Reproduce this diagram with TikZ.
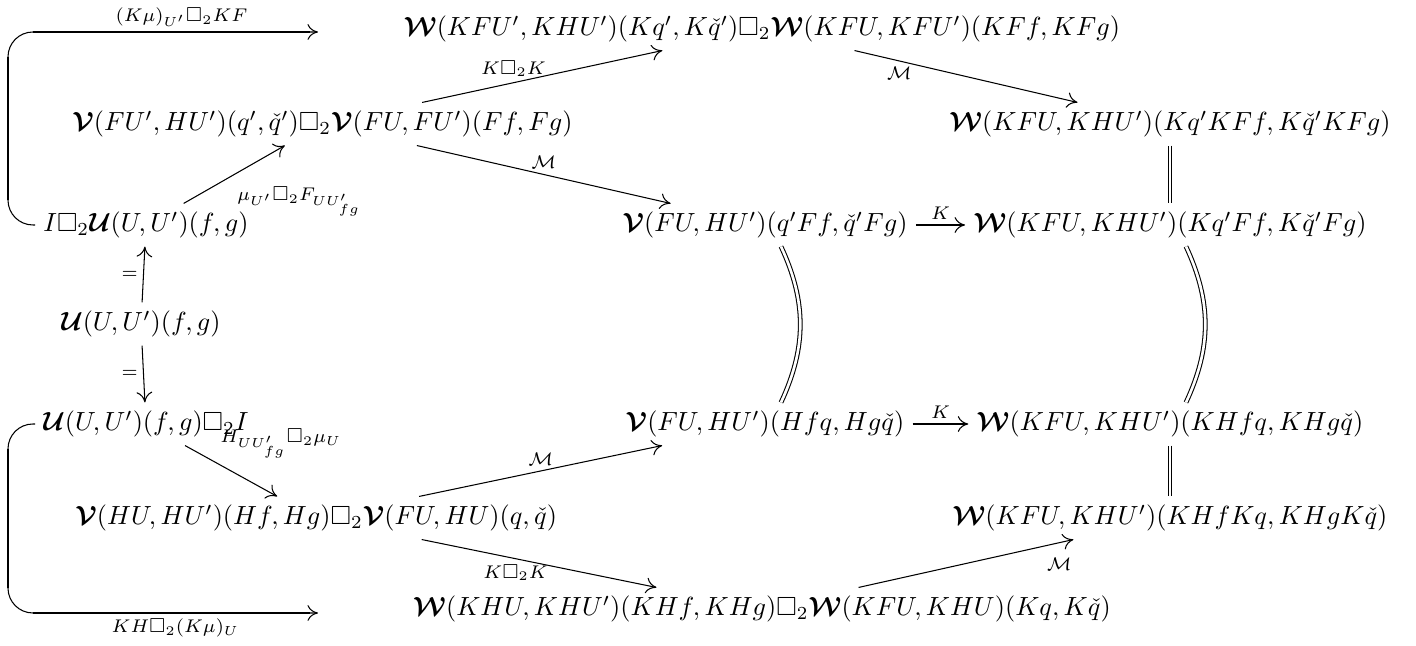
\documentclass[tikz,border=0pt]{standalone}
\usepackage{amsmath,amssymb}
\usetikzlibrary{arrows.meta}
\newcommand{\calW}{\boldsymbol{\mathcal{W}}}
\newcommand{\calV}{\boldsymbol{\mathcal{V}}}
\newcommand{\calU}{\boldsymbol{\mathcal{U}}}
\newcommand{\calM}{\mathcal{M}}
\begin{document}
\begin{tikzpicture}[x=0.381pt,y=-0.381pt,
  obj/.style={inner sep=3pt},
  arr/.style={-{To[length=4pt,width=6pt]}, line width=0.4pt},
  lbl/.style={inner sep=2pt},
  eq/.style={double, double distance=1pt, line width=0.4pt},
  thick line/.style={line width=0.9pt}]
\useasboundingbox (0,0) rectangle (1416,646);
\node[obj] (T) at (762,29) {$\calW(KFU',KHU')(Kq',K\check{q}')\Box_2\calW(KFU,KFU')(KFf,KFg)$};
\node[obj, anchor=west] (A1) at (64,124) {$\calV(FU',HU')(q',\check{q}')\Box_2\calV(FU,FU')(Ff,Fg)$};
\node[obj] (R1) at (1170,124) {$\calW(KFU,KHU')(Kq'KFf,K\check{q}'KFg)$};
\node[obj] (I) at (146,225) {$I\Box_2\calU(U,U')(f,g)$};
\node[obj] (M1) at (765,225) {$\calV(FU,HU')(q'Ff,\check{q}'Fg)$};
\node[obj] (R2) at (1170,225) {$\calW(KFU,KHU')(Kq'Ff,K\check{q}'Fg)$};
\node[obj] (U) at (141,324) {$\calU(U,U')(f,g)$};
\node[obj] (I2) at (146,424) {$\calU(U,U')(f,g)\Box_2I$};
\node[obj] (M2) at (765,424) {$\calV(FU,HU')(Hfq,Hg\check{q})$};
\node[obj] (R3) at (1170,424) {$\calW(KFU,KHU')(KHfq,KHg\check{q})$};
\node[obj, anchor=west] (A2) at (67,518) {$\calV(HU,HU')(Hf,Hg)\Box_2\calV(FU,HU)(q,\check{q})$};
\node[obj] (R4) at (1170,518) {$\calW(KFU,KHU')(KHfKq,KHgK\check{q})$};
\node[obj] (B) at (762,609) {$\calW(KHU,KHU')(KHf,KHg)\Box_2\calW(KFU,KHU)(Kq,K\check{q})$};
% helper coordinates
\coordinate (lx) at (8,0);
\coordinate (topEnd) at (318,32);
\coordinate (botEnd) at (318,613);
\coordinate (tl) at (lx |- topEnd);
\coordinate (bl) at (lx |- botEnd);
\coordinate (cM) at (781,0);
\coordinate (cR) at (1186,0);
% loops
\draw[arr, rounded corners=9.5pt] (I.west) -- (I.west -| lx) -- (tl) -- (topEnd)
  node[pos=0.56, above, lbl] {$\scriptstyle (K\mu)_{U'}\Box_2KF$};
\draw[thick line] ([yshift=-9.5pt]tl) -- ([yshift=9.5pt]I.west -| lx);
\draw[thick line] ([xshift=9.5pt]tl) -- ([xshift=-3pt]topEnd);
\draw[arr, rounded corners=9.5pt] (I2.west) -- (I2.west -| lx) -- (bl) -- (botEnd)
  node[pos=0.54, below, lbl] {$\scriptstyle KH\Box_2(K\mu)_U$};
\draw[thick line] ([yshift=9.5pt]bl) -- ([yshift=-9.5pt]I2.west -| lx);
\draw[thick line] ([xshift=9.5pt]bl) -- ([xshift=-3pt]botEnd);
% arrows
\draw[arr] (A1) -- (T) node[pos=0.38, above, lbl] {$\scriptstyle K\Box_2K$};
\draw[arr] (T) -- (R1) node[pos=0.2, below, lbl] {$\scriptstyle \calM$};
\draw[arr] (A1) -- (M1) node[midway, above, lbl] {$\scriptstyle \calM$};
\draw[arr] (I) -- (A1) node[pos=0.5, anchor=north west, inner sep=0pt, xshift=1pt, yshift=-4.5pt] {$\scriptstyle \mu_{U'}\Box_2F_{UU'_{fg}}$};
\draw[arr] (U) -- (I) node[midway, left, lbl] {$\scriptstyle =$};
\draw[arr] (U) -- (I2) node[midway, left, lbl] {$\scriptstyle =$};
\draw[arr] (I2) -- (A2) node[pos=0.35, anchor=south west, inner sep=0pt, xshift=1pt, yshift=2pt] {$\scriptstyle H_{UU'_{fg}}\Box_2\mu_U$};
\draw[arr] (A2) -- (M2) node[midway, above, lbl] {$\scriptstyle \calM$};
\draw[arr] (A2) -- (B) node[pos=0.4, below, lbl] {$\scriptstyle K\Box_2K$};
\draw[arr] (B) -- (R4) node[pos=0.85, below right, lbl, yshift=-2pt] {$\scriptstyle \calM$};
\draw[arr] (M1) -- (R2) node[midway, above, lbl] {$\scriptstyle K$};
\draw[arr] (M2) -- (R3) node[midway, above, lbl] {$\scriptstyle K$};
% equalities
\draw[eq] (R1) -- (R2);
\draw[eq] (R3) -- (R4);
\draw[eq] (M1.south -| cM) to[bend left=25] (M2.north -| cM);
\draw[eq] (R2.south -| cR) to[bend left=25] (R3.north -| cR);
\end{tikzpicture}
\end{document}
